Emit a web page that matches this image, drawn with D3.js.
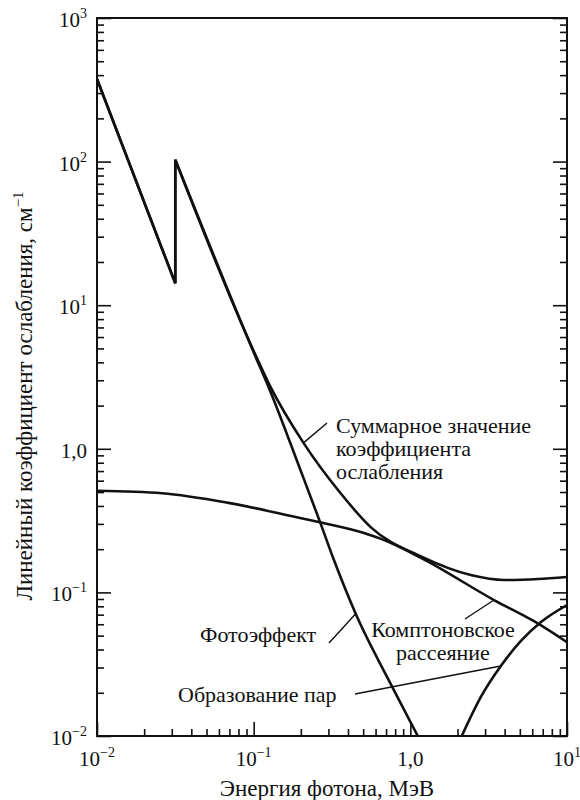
<!DOCTYPE html>
<html>
<head>
<meta charset="utf-8">
<script src="https://cdn.jsdelivr.net/npm/d3@7"></script>
<style>
  html, body { margin: 0; padding: 0; background: #fff; }
  svg { display: block; }
</style>
</head>
<body>
<svg id="chart" width="580" height="800"
     font-family="'Liberation Serif', 'Times New Roman', Tinos, 'DejaVu Serif', 'Noto Serif', serif"></svg>
<script>
// Photon energy (MeV) and linear attenuation coefficient (cm^-1) for each process.
// A repeated energy marks the absorption edge (vertical jump).
const photoE   = [0.01, 0.0316, 0.0316, 0.1, 0.128, 0.2, 0.268, 0.324, 0.448, 0.75, 1.115];
const photoMu  = [376, 14.2, 103, 4.7, 2.5, 0.70, 0.30, 0.17, 0.071, 0.023, 0.01];

const comptonE  = [0.01, 0.026, 0.069, 0.185, 0.256, 0.5, 0.65, 1.17, 3.42, 6.16, 10];
const comptonMu = [0.51, 0.49, 0.42, 0.335, 0.31, 0.26, 0.236, 0.174, 0.0885, 0.063, 0.045];

const pairE  = [2.13, 2.82, 3.78, 5.08, 6.82, 10];
const pairMu = [0.01, 0.0187, 0.0307, 0.0459, 0.0622, 0.0817];

const totalE  = [0.01, 0.0316, 0.0316, 0.1, 0.128, 0.208, 0.359, 0.558, 1.17, 2.43, 3.96, 6.53, 10];
const totalMu = [376, 14.2, 103, 4.8, 2.7, 1.10, 0.49, 0.285, 0.178, 0.132, 0.122, 0.124, 0.128];

// Major tick values and their labels: [mantissa, superscript]
const xMajor  = [0.01, 0.1, 1, 10];
const xLabels = [["10", "−2"], ["10", "−1"], ["1,0", ""], ["10", "1"]];
const yMajor  = [0.01, 0.1, 1, 10, 100, 1000];
const yLabels = [["10", "−2"], ["10", "−1"], ["1,0", ""], ["10", "1"], ["10", "2"], ["10", "3"]];

const xTitle = "Энергия фотона, МэВ";
const yTitle = ["Линейный коэффициент ослабления, см", "−1"];

const svg = d3.select("#chart");
const plotL = 97, plotR = 567, plotT = 18, plotB = 736;
const ink = "#111";

const x = d3.scaleLog().domain([0.01, 10]).range([plotL, plotR]);
const y = d3.scaleLog().domain([0.01, 1000]).range([plotB, plotT]);

// minor ticks 2..9 inside each decade
function minors(lo, hi) {
  const out = [];
  for (let d = lo; d < hi * 0.999; d *= 10)
    for (let k = 2; k <= 9; k++) out.push(k * d);
  return out;
}
const xMinor = minors(0.01, 10);
const yMinor = minors(0.01, 1000);

const MAJ = 14, MIN = 7;
function styleAxis(g) {
  g.select(".domain").remove();
  g.selectAll(".tick line").attr("stroke", ink).attr("stroke-width", 1.6);
  g.selectAll(".tick text").remove();
}
// bottom axis, ticks pointing inward
svg.append("g").attr("transform", `translate(0,${plotB})`)
  .call(d3.axisBottom(x).tickValues(xMinor).tickSize(-MIN).tickFormat("")).call(styleAxis);
svg.append("g").attr("transform", `translate(0,${plotB})`)
  .call(d3.axisBottom(x).tickValues(xMajor).tickSize(-MAJ).tickFormat("")).call(styleAxis);
// left axis
svg.append("g").attr("transform", `translate(${plotL},0)`)
  .call(d3.axisLeft(y).tickValues(yMinor).tickSize(-MIN).tickFormat("")).call(styleAxis);
svg.append("g").attr("transform", `translate(${plotL},0)`)
  .call(d3.axisLeft(y).tickValues(yMajor).tickSize(-MAJ).tickFormat("")).call(styleAxis);
// right axis
svg.append("g").attr("transform", `translate(${plotR},0)`)
  .call(d3.axisRight(y).tickValues(yMinor).tickSize(-MIN).tickFormat("")).call(styleAxis);
svg.append("g").attr("transform", `translate(${plotR},0)`)
  .call(d3.axisRight(y).tickValues(yMajor).tickSize(-MAJ).tickFormat("")).call(styleAxis);

// frame
svg.append("rect")
  .attr("x", plotL).attr("y", plotT)
  .attr("width", plotR - plotL).attr("height", plotB - plotT)
  .attr("fill", "none").attr("stroke", ink).attr("stroke-width", 2);

// tick labels with superscripts
function powLabel(sel, lab) {
  sel.append("tspan").text(lab[0]);
  if (lab[1]) sel.append("tspan").attr("dy", -9).attr("font-size", 14).text(lab[1]);
}
xMajor.forEach((v, i) => {
  const t = svg.append("text").attr("x", x(v)).attr("y", 766).attr("fill", ink)
    .attr("text-anchor", "middle").attr("font-size", 21);
  powLabel(t, xLabels[i]);
});
yMajor.forEach((v, i) => {
  const t = svg.append("text").attr("x", plotL - 10).attr("y", y(v) + 9).attr("fill", ink)
    .attr("text-anchor", "end").attr("font-size", 21);
  powLabel(t, yLabels[i]);
});

// axis titles
svg.append("text").attr("x", 327).attr("y", 796).attr("text-anchor", "middle")
  .attr("fill", ink).attr("font-size", 23).text(xTitle);
const yt = svg.append("text").attr("transform", "translate(32,396) rotate(-90)")
  .attr("text-anchor", "middle").attr("fill", ink).attr("font-size", 23);
yt.append("tspan").text(yTitle[0]);
yt.append("tspan").attr("dy", -9).attr("font-size", 15).text(yTitle[1]);

// curves
svg.append("clipPath").attr("id", "plot").append("rect")
  .attr("x", plotL).attr("y", plotT).attr("width", plotR - plotL).attr("height", plotB - plotT);

const line = d3.line().x(d => x(d[0])).y(d => y(d[1])).curve(d3.curveMonotoneX);
function pathFor(E, M) {
  const pts = E.map((e, i) => [e, M[i]]);
  const segs = [];
  let cur = [pts[0]];
  for (let i = 1; i < pts.length; i++) {
    if (pts[i][0] === pts[i - 1][0]) { segs.push(cur); cur = [pts[i]]; }
    else cur.push(pts[i]);
  }
  segs.push(cur);
  return segs.map((s, i) => (i ? line(s).replace(/^M/, "L") : line(s))).join("");
}
const curves = svg.append("g").attr("clip-path", "url(#plot)")
  .attr("fill", "none").attr("stroke", ink).attr("stroke-width", 2.6)
  .attr("stroke-linejoin", "miter");
[[totalE, totalMu], [photoE, photoMu], [comptonE, comptonMu], [pairE, pairMu]]
  .forEach(([E, M]) => curves.append("path").attr("d", pathFor(E, M)));

// annotations: text lines and leader from the text to a point on the curve
const notes = [
  { lines: ["Суммарное значение", "коэффициента", "ослабления"], tx: 336, ty: 433, anchor: "start",
    from: [327, 423], at: [totalE[5], totalMu[5]] },
  { lines: ["Фотоэффект"], tx: 200, ty: 642, anchor: "start",
    from: [329, 643], at: [photoE[8], photoMu[8]] },
  { lines: ["Комптоновское", "рассеяние"], tx: 443, ty: 637, anchor: "middle",
    from: [465, 619], at: [comptonE[8], comptonMu[8]] },
  { lines: ["Образование пар"], tx: 178, ty: 702, anchor: "start",
    from: [355, 694], at: [pairE[2], pairMu[2]] }
];
notes.forEach(n => {
  const t = svg.append("text").attr("x", n.tx).attr("y", n.ty).attr("fill", ink)
    .attr("text-anchor", n.anchor).attr("font-size", 22);
  n.lines.forEach((s, i) => t.append("tspan").attr("x", n.tx).attr("dy", i ? 23 : 0).text(s));
  svg.append("line")
    .attr("x1", n.from[0]).attr("y1", n.from[1])
    .attr("x2", x(n.at[0])).attr("y2", y(n.at[1]))
    .attr("stroke", ink).attr("stroke-width", 1.4);
});
</script>
</body>
</html>
